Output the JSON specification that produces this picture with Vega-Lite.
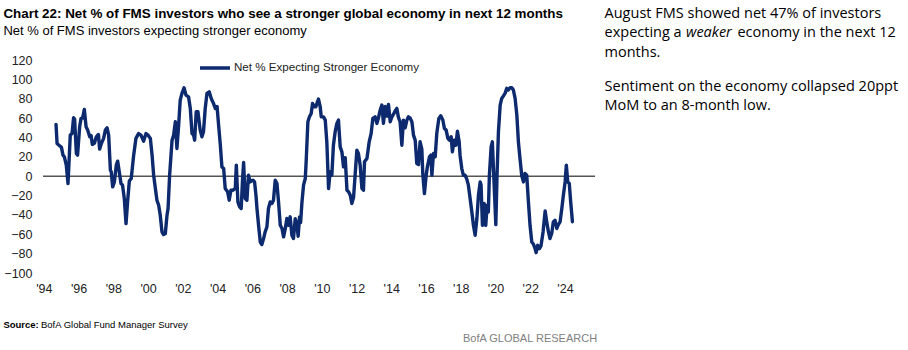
{
  "$schema": "https://vega.github.io/schema/vega-lite/v6.json",
  "autosize": "none",
  "width": 552,
  "height": 213,
  "padding": {"left": 43, "top": 60, "right": 313, "bottom": 77},
  "background": "white",
  "config": {
    "view": {"stroke": null},
    "font": "Liberation Sans, Arial, sans-serif",
    "axis": {"labelOverlap": false, "labelFlush": false, "domain": false, "ticks": false, "grid": false,
             "labelFontSize": 12.5, "labelColor": "#222222", "labelFont": "Liberation Sans, Arial, sans-serif", "title": null},
    "axisX": {"labelPadding": 9},
    "axisY": {"labelPadding": 11}
  },
  "resolve": {"axis": {"x": "independent", "y": "independent"}},
  "layer": [
    {
      "data": {"values": [{}]},
      "mark": {"type": "rule", "color": "#555555", "strokeWidth": 1.5},
      "encoding": {
        "y": {"datum": 0, "type": "quantitative", "scale": {"domain": [-100, 120], "nice": false}, "axis": null}
      }
    },
    {
      "data": {"values": [
        {"date":1994.70,"net":53.5},{"date":1994.76,"net":33.8},{"date":1994.91,"net":31.3},{"date":1995.01,"net":30},{"date":1995.10,"net":21.7},{"date":1995.18,"net":20},{"date":1995.29,"net":11.4},{"date":1995.39,"net":-7.6},{"date":1995.52,"net":42.4},{"date":1995.62,"net":44},{"date":1995.71,"net":60.3},{"date":1995.77,"net":59},{"date":1995.87,"net":23.4},{"date":1995.94,"net":21.7},{"date":1996.06,"net":51},{"date":1996.14,"net":59.7},{"date":1996.23,"net":60},{"date":1996.33,"net":69},{"date":1996.43,"net":51},{"date":1996.52,"net":47.6},{"date":1996.64,"net":40.7},{"date":1996.72,"net":42},{"date":1996.79,"net":32.8},{"date":1996.91,"net":34},{"date":1997.02,"net":40.7},{"date":1997.14,"net":43.1},{"date":1997.21,"net":27.9},{"date":1997.31,"net":33.8},{"date":1997.44,"net":39},{"date":1997.54,"net":47.6},{"date":1997.64,"net":50},{"date":1997.73,"net":42.4},{"date":1997.83,"net":6.2},{"date":1997.88,"net":4.5},{"date":1997.96,"net":-11},{"date":1998.06,"net":-5.9},{"date":1998.17,"net":11.4},{"date":1998.25,"net":15.5},{"date":1998.34,"net":4.5},{"date":1998.44,"net":-7.6},{"date":1998.53,"net":-9.3},{"date":1998.63,"net":-23},{"date":1998.73,"net":-49},{"date":1998.82,"net":-26.6},{"date":1998.92,"net":-5},{"date":1999.03,"net":-2.4},{"date":1999.17,"net":21.7},{"date":1999.30,"net":39},{"date":1999.45,"net":44},{"date":1999.59,"net":42.4},{"date":1999.74,"net":36.2},{"date":1999.88,"net":44},{"date":2000.00,"net":42.4},{"date":2000.13,"net":39},{"date":2000.23,"net":21.7},{"date":2000.32,"net":1},{"date":2000.42,"net":-12.7},{"date":2000.51,"net":-24.8},{"date":2000.61,"net":-30},{"date":2000.70,"net":-40.3},{"date":2000.80,"net":-57.6},{"date":2000.89,"net":-60.3},{"date":2000.99,"net":-59.5},{"date":2001.09,"net":-40.3},{"date":2001.15,"net":-33.4},{"date":2001.24,"net":1},{"date":2001.32,"net":21.7},{"date":2001.38,"net":37.2},{"date":2001.47,"net":42.4},{"date":2001.57,"net":56.2},{"date":2001.66,"net":28.6},{"date":2001.76,"net":52.7},{"date":2001.85,"net":78.6},{"date":2001.95,"net":85.5},{"date":2002.07,"net":91.3},{"date":2002.18,"net":83.8},{"date":2002.33,"net":82},{"date":2002.43,"net":70},{"date":2002.53,"net":44},{"date":2002.62,"net":42.4},{"date":2002.68,"net":37.2},{"date":2002.77,"net":66.5},{"date":2002.87,"net":66.5},{"date":2003.00,"net":47.6},{"date":2003.10,"net":40.7},{"date":2003.19,"net":46},{"date":2003.29,"net":70},{"date":2003.39,"net":85.5},{"date":2003.52,"net":87.2},{"date":2003.64,"net":80},{"date":2003.77,"net":75},{"date":2003.87,"net":70},{"date":2003.97,"net":72},{"date":2004.06,"net":52.7},{"date":2004.16,"net":32},{"date":2004.25,"net":9.6},{"date":2004.35,"net":8},{"date":2004.44,"net":-12.7},{"date":2004.58,"net":-16.2},{"date":2004.67,"net":-24.8},{"date":2004.77,"net":-14.5},{"date":2004.89,"net":-14.5},{"date":2005.02,"net":-12.7},{"date":2005.08,"net":11.4},{"date":2005.17,"net":-26.6},{"date":2005.27,"net":-31.7},{"date":2005.36,"net":-33.4},{"date":2005.44,"net":-2.4},{"date":2005.50,"net":14.1},{"date":2005.59,"net":-23},{"date":2005.69,"net":-24.8},{"date":2005.78,"net":1},{"date":2005.88,"net":-5.9},{"date":2006.04,"net":-4.1},{"date":2006.13,"net":-5.9},{"date":2006.21,"net":-19.6},{"date":2006.27,"net":-33.4},{"date":2006.36,"net":-50.7},{"date":2006.46,"net":-68},{"date":2006.55,"net":-70.6},{"date":2006.65,"net":-64.4},{"date":2006.74,"net":-57.6},{"date":2006.84,"net":-52.4},{"date":2006.93,"net":-33.4},{"date":2007.03,"net":-26.6},{"date":2007.13,"net":-28.2},{"date":2007.22,"net":-24.8},{"date":2007.32,"net":-4.1},{"date":2007.42,"net":-7.6},{"date":2007.51,"net":-26.6},{"date":2007.61,"net":-50.7},{"date":2007.71,"net":-54},{"date":2007.80,"net":-62.7},{"date":2007.90,"net":-54},{"date":2007.99,"net":-43.7},{"date":2008.09,"net":-50.7},{"date":2008.18,"net":-42},{"date":2008.28,"net":-61},{"date":2008.37,"net":-64.4},{"date":2008.47,"net":-44},{"date":2008.57,"net":-50},{"date":2008.64,"net":-62},{"date":2008.72,"net":-42},{"date":2008.78,"net":-48},{"date":2008.86,"net":-26.6},{"date":2008.95,"net":-9.3},{"date":2009.05,"net":-2.4},{"date":2009.10,"net":14.8},{"date":2009.20,"net":56.2},{"date":2009.29,"net":61.3},{"date":2009.39,"net":64.8},{"date":2009.47,"net":75.2},{"date":2009.56,"net":71.7},{"date":2009.66,"net":71.7},{"date":2009.75,"net":76.8},{"date":2009.81,"net":79.6},{"date":2009.91,"net":71.7},{"date":2009.97,"net":61.3},{"date":2010.10,"net":61.3},{"date":2010.20,"net":57.9},{"date":2010.29,"net":35.5},{"date":2010.39,"net":-12.7},{"date":2010.48,"net":4.5},{"date":2010.58,"net":1},{"date":2010.67,"net":32},{"date":2010.77,"net":45.8},{"date":2010.87,"net":54.5},{"date":2010.96,"net":57.9},{"date":2011.06,"net":30.3},{"date":2011.16,"net":25},{"date":2011.25,"net":9.6},{"date":2011.35,"net":19},{"date":2011.45,"net":-14.5},{"date":2011.54,"net":-16},{"date":2011.64,"net":-19.6},{"date":2011.73,"net":-28.2},{"date":2011.83,"net":-21.7},{"date":2011.92,"net":1},{"date":2012.02,"net":26.9},{"date":2012.11,"net":23.4},{"date":2012.21,"net":11.4},{"date":2012.31,"net":-12.7},{"date":2012.40,"net":-14.5},{"date":2012.46,"net":14.8},{"date":2012.60,"net":18.3},{"date":2012.73,"net":35.5},{"date":2012.84,"net":44},{"date":2012.94,"net":59.7},{"date":2013.07,"net":61.3},{"date":2013.17,"net":54.5},{"date":2013.26,"net":60},{"date":2013.36,"net":68},{"date":2013.46,"net":73.4},{"date":2013.55,"net":54.5},{"date":2013.65,"net":72},{"date":2013.75,"net":62},{"date":2013.84,"net":74.1},{"date":2013.94,"net":56.2},{"date":2014.03,"net":61},{"date":2014.13,"net":64},{"date":2014.22,"net":67.2},{"date":2014.32,"net":70},{"date":2014.41,"net":61},{"date":2014.51,"net":56},{"date":2014.61,"net":32},{"date":2014.70,"net":57.9},{"date":2014.80,"net":50},{"date":2014.90,"net":57.9},{"date":2014.99,"net":61.3},{"date":2015.09,"net":60},{"date":2015.19,"net":56},{"date":2015.28,"net":42.4},{"date":2015.38,"net":37},{"date":2015.47,"net":13.1},{"date":2015.57,"net":12},{"date":2015.66,"net":35.5},{"date":2015.76,"net":28},{"date":2015.82,"net":1},{"date":2015.91,"net":-17.9},{"date":2016.01,"net":1},{"date":2016.08,"net":9.6},{"date":2016.20,"net":20},{"date":2016.28,"net":21.7},{"date":2016.34,"net":1},{"date":2016.43,"net":23.4},{"date":2016.53,"net":20},{"date":2016.62,"net":44},{"date":2016.74,"net":59.7},{"date":2016.85,"net":62.4},{"date":2016.97,"net":58},{"date":2017.06,"net":49.3},{"date":2017.16,"net":47.6},{"date":2017.26,"net":39},{"date":2017.35,"net":37.2},{"date":2017.45,"net":40.7},{"date":2017.52,"net":25.2},{"date":2017.62,"net":37.2},{"date":2017.72,"net":32},{"date":2017.81,"net":46.5},{"date":2017.91,"net":35.5},{"date":2017.96,"net":21.7},{"date":2018.06,"net":7.9},{"date":2018.15,"net":1},{"date":2018.25,"net":1},{"date":2018.35,"net":-3},{"date":2018.44,"net":-9.3},{"date":2018.54,"net":-23},{"date":2018.64,"net":-36.9},{"date":2018.73,"net":-50.7},{"date":2018.83,"net":-61},{"date":2018.93,"net":-43.7},{"date":2019.02,"net":-19.6},{"date":2019.12,"net":-5.9},{"date":2019.17,"net":-9},{"date":2019.25,"net":-50.7},{"date":2019.35,"net":-28.2},{"date":2019.44,"net":-50.7},{"date":2019.52,"net":-30},{"date":2019.59,"net":-37},{"date":2019.65,"net":1},{"date":2019.75,"net":30.3},{"date":2019.82,"net":35.5},{"date":2019.90,"net":1},{"date":2020.02,"net":-50},{"date":2020.09,"net":1},{"date":2020.17,"net":45.8},{"date":2020.27,"net":73.4},{"date":2020.36,"net":80.3},{"date":2020.46,"net":83},{"date":2020.55,"net":85.5},{"date":2020.65,"net":90.7},{"date":2020.74,"net":89},{"date":2020.84,"net":91.3},{"date":2020.94,"net":91.3},{"date":2021.03,"net":89},{"date":2021.13,"net":80.3},{"date":2021.23,"net":63.1},{"date":2021.32,"net":35.5},{"date":2021.42,"net":16.5},{"date":2021.51,"net":1},{"date":2021.61,"net":-5.9},{"date":2021.70,"net":2.8},{"date":2021.80,"net":1},{"date":2021.89,"net":-24.8},{"date":2021.99,"net":-50.7},{"date":2022.09,"net":-68},{"date":2022.18,"net":-70},{"date":2022.28,"net":-74.8},{"date":2022.34,"net":-79},{"date":2022.43,"net":-71.4},{"date":2022.53,"net":-74.8},{"date":2022.62,"net":-72},{"date":2022.74,"net":-57.6},{"date":2022.86,"net":-36},{"date":2022.95,"net":-47.2},{"date":2023.05,"net":-57.6},{"date":2023.14,"net":-64.4},{"date":2023.24,"net":-59},{"date":2023.33,"net":-47.2},{"date":2023.43,"net":-45.5},{"date":2023.53,"net":-54},{"date":2023.62,"net":-50},{"date":2023.72,"net":-47.2},{"date":2023.82,"net":-33.4},{"date":2023.91,"net":-19.6},{"date":2024.01,"net":-5.9},{"date":2024.08,"net":11.4},{"date":2024.16,"net":-5.9},{"date":2024.25,"net":-7.6},{"date":2024.33,"net":-26.6},{"date":2024.43,"net":-47}
      ]},
      "mark": {"type": "line", "strokeWidth": 3.4, "strokeJoin": "round", "strokeCap": "round"},
      "encoding": {
        "x": {"field": "date", "type": "quantitative",
              "scale": {"domain": [1993.95, 2025.73], "nice": false, "zero": false},
              "axis": {"values": [1994,1996,1998,2000,2002,2004,2006,2008,2010,2012,2014,2016,2018,2020,2022,2024],
                       "format": "d", "labelExpr": "\"'\" + substring(datum.label, 2, 4)", "labelOverlap": false}},
        "y": {"field": "net", "type": "quantitative",
              "scale": {"domain": [-100, 120], "nice": false},
              "axis": {"values": [-100,-80,-60,-40,-20,0,20,40,60,80,100,120], "labelOverlap": false}},
        "color": {"datum": "Net % Expecting Stronger Economy",
                  "scale": {"range": ["#0c2a6d"]},
                  "legend": {"orient": "none", "legendX": 155, "legendY": -9, "title": null,
                             "symbolType": "stroke", "symbolSize": 900, "symbolStrokeWidth": 3.5,
                             "labelFontSize": 11.6, "labelColor": "#222222", "labelOffset": 2, "padding": 0, "labelLimit": 400,
                             "labelFont": "Liberation Sans, Arial, sans-serif"}}
      }
    },
    {
      "data": {"values": [{}]},
      "mark": {"type": "text", "align": "left", "baseline": "alphabetic", "fontSize": 13.4, "fontWeight": "bold", "color": "#000000",
               "font": "Liberation Sans, Arial, sans-serif"},
      "encoding": {
        "x": {"datum": 1991.67, "type": "quantitative", "scale": {"domain": [1993.95, 2025.73], "nice": false, "zero": false}, "axis": null},
        "y": {"datum": 163.4, "type": "quantitative", "scale": {"domain": [-100, 120], "nice": false}, "axis": null},
        "text": {"value": "Chart 22: Net % of FMS investors who see a stronger global economy in next 12 months"}
      }
    },
    {
      "data": {"values": [{}]},
      "mark": {"type": "text", "align": "left", "baseline": "alphabetic", "fontSize": 13, "color": "#000000",
               "font": "Liberation Sans, Arial, sans-serif"},
      "encoding": {
        "x": {"datum": 1991.67, "type": "quantitative", "scale": {"domain": [1993.95, 2025.73], "nice": false, "zero": false}, "axis": null},
        "y": {"datum": 145.5, "type": "quantitative", "scale": {"domain": [-100, 120], "nice": false}, "axis": null},
        "text": {"value": "Net % of FMS investors expecting stronger economy"}
      }
    },
    {
      "data": {"values": [{}]},
      "mark": {"type": "text", "align": "left", "baseline": "alphabetic", "fontSize": 14.5, "color": "#000000", "font": "Open Sans"},
      "encoding": {
        "x": {"datum": 2026.28, "type": "quantitative", "scale": {"domain": [1993.95, 2025.73], "nice": false, "zero": false}, "axis": null},
        "y": {"datum": 163.1, "type": "quantitative", "scale": {"domain": [-100, 120], "nice": false}, "axis": null},
        "text": {"value": "August FMS showed net 47% of investors"}
      }
    },
    {
      "data": {"values": [{}]},
      "mark": {"type": "text", "align": "left", "baseline": "alphabetic", "fontSize": 14.5, "color": "#000000", "font": "Open Sans"},
      "encoding": {
        "x": {"datum": 2026.28, "type": "quantitative", "scale": {"domain": [1993.95, 2025.73], "nice": false, "zero": false}, "axis": null},
        "y": {"datum": 143.5, "type": "quantitative", "scale": {"domain": [-100, 120], "nice": false}, "axis": null},
        "text": {"value": "expecting a"}
      }
    },
    {
      "data": {"values": [{}]},
      "mark": {"type": "text", "align": "left", "baseline": "alphabetic", "fontSize": 14.5, "fontStyle": "italic", "color": "#000000", "font": "Open Sans"},
      "encoding": {
        "x": {"datum": 2030.97, "type": "quantitative", "scale": {"domain": [1993.95, 2025.73], "nice": false, "zero": false}, "axis": null},
        "y": {"datum": 143.5, "type": "quantitative", "scale": {"domain": [-100, 120], "nice": false}, "axis": null},
        "text": {"value": "weaker"}
      }
    },
    {
      "data": {"values": [{}]},
      "mark": {"type": "text", "align": "left", "baseline": "alphabetic", "fontSize": 14.5, "color": "#000000", "font": "Open Sans"},
      "encoding": {
        "x": {"datum": 2033.93, "type": "quantitative", "scale": {"domain": [1993.95, 2025.73], "nice": false, "zero": false}, "axis": null},
        "y": {"datum": 143.5, "type": "quantitative", "scale": {"domain": [-100, 120], "nice": false}, "axis": null},
        "text": {"value": "economy in the next 12"}
      }
    },
    {
      "data": {"values": [{}]},
      "mark": {"type": "text", "align": "left", "baseline": "alphabetic", "fontSize": 14.5, "color": "#000000", "font": "Open Sans"},
      "encoding": {
        "x": {"datum": 2026.28, "type": "quantitative", "scale": {"domain": [1993.95, 2025.73], "nice": false, "zero": false}, "axis": null},
        "y": {"datum": 123.4, "type": "quantitative", "scale": {"domain": [-100, 120], "nice": false}, "axis": null},
        "text": {"value": "months."}
      }
    },
    {
      "data": {"values": [{}]},
      "mark": {"type": "text", "align": "left", "baseline": "alphabetic", "fontSize": 14.5, "color": "#000000", "font": "Open Sans"},
      "encoding": {
        "x": {"datum": 2026.28, "type": "quantitative", "scale": {"domain": [1993.95, 2025.73], "nice": false, "zero": false}, "axis": null},
        "y": {"datum": 88.2, "type": "quantitative", "scale": {"domain": [-100, 120], "nice": false}, "axis": null},
        "text": {"value": "Sentiment on the economy collapsed 20ppt"}
      }
    },
    {
      "data": {"values": [{}]},
      "mark": {"type": "text", "align": "left", "baseline": "alphabetic", "fontSize": 14.5, "color": "#000000", "font": "Open Sans"},
      "encoding": {
        "x": {"datum": 2026.28, "type": "quantitative", "scale": {"domain": [1993.95, 2025.73], "nice": false, "zero": false}, "axis": null},
        "y": {"datum": 68.3, "type": "quantitative", "scale": {"domain": [-100, 120], "nice": false}, "axis": null},
        "text": {"value": "MoM to an 8-month low."}
      }
    },
    {
      "data": {"values": [{}]},
      "mark": {"type": "text", "align": "left", "baseline": "alphabetic", "fontSize": 9.5, "fontWeight": "bold", "color": "#000000",
               "font": "Liberation Sans, Arial, sans-serif"},
      "encoding": {
        "x": {"datum": 1991.67, "type": "quantitative", "scale": {"domain": [1993.95, 2025.73], "nice": false, "zero": false}, "axis": null},
        "y": {"datum": -157.2, "type": "quantitative", "scale": {"domain": [-100, 120], "nice": false}, "axis": null},
        "text": {"value": "Source:"}
      }
    },
    {
      "data": {"values": [{}]},
      "mark": {"type": "text", "align": "left", "baseline": "alphabetic", "fontSize": 9.5, "color": "#000000",
               "font": "Liberation Sans, Arial, sans-serif"},
      "encoding": {
        "x": {"datum": 1993.83, "type": "quantitative", "scale": {"domain": [1993.95, 2025.73], "nice": false, "zero": false}, "axis": null},
        "y": {"datum": -157.2, "type": "quantitative", "scale": {"domain": [-100, 120], "nice": false}, "axis": null},
        "text": {"value": "BofA Global Fund Manager Survey"}
      }
    },
    {
      "data": {"values": [{}]},
      "mark": {"type": "text", "align": "right", "baseline": "alphabetic", "fontSize": 11, "color": "#808080",
               "font": "Liberation Sans, Arial, sans-serif"},
      "encoding": {
        "x": {"datum": 2025.85, "type": "quantitative", "scale": {"domain": [1993.95, 2025.73], "nice": false, "zero": false}, "axis": null},
        "y": {"datum": -171.7, "type": "quantitative", "scale": {"domain": [-100, 120], "nice": false}, "axis": null},
        "text": {"value": "BofA GLOBAL RESEARCH"}
      }
    }
  ]
}
